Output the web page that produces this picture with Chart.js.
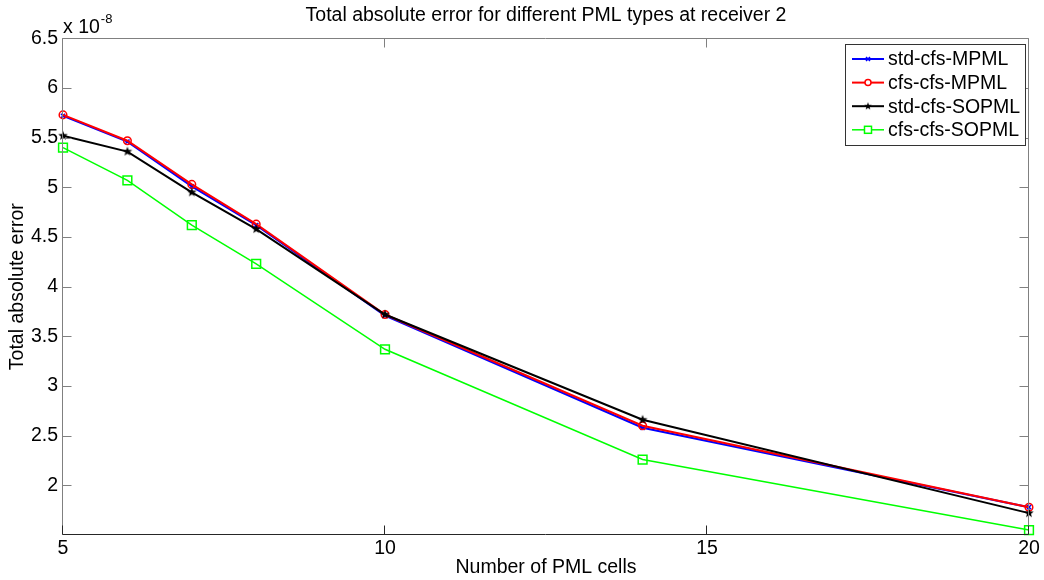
<!DOCTYPE html>
<html>
<head>
<meta charset="utf-8">
<script src="https://cdn.jsdelivr.net/npm/chart.js@4"></script>
<style>
  body { margin: 0; background: #fff; }
  canvas { display: block; }
</style>
</head>
<body>
<canvas id="errChart" width="1044" height="580"></canvas>
<script>
// values are in units of 1e-8
const cells = [5, 6, 7, 8, 10, 14, 20];
const stdMPML = [5.72, 5.46, 5.01, 4.62, 3.71, 2.58, 1.78];
const cfsMPML = [5.73, 5.47, 5.03, 4.63, 3.72, 2.60, 1.78];
const stdSOPML = [5.52, 5.36, 4.95, 4.58, 3.72, 2.66, 1.72];
const cfsSOPML = [5.40, 5.07, 4.62, 4.23, 3.37, 2.26, 1.55];
const seriesNames = ["std-cfs-MPML", "cfs-cfs-MPML", "std-cfs-SOPML", "cfs-cfs-SOPML"];
const xTicks = [5, 10, 15, 20];
const yTicks = [2, 2.5, 3, 3.5, 4, 4.5, 5, 5.5, 6, 6.5];
const exponent = "-8";

const FONT = "'Liberation Sans', Arial, Helvetica, sans-serif";

// filled pentagram like matlab's 'p' marker
function makeStar(r, color) {
    const c = document.createElement("canvas");
    const s = Math.ceil(r * 2 + 2);
    c.width = s; c.height = s;
    const g = c.getContext("2d");
    g.fillStyle = color;
    g.beginPath();
    for (let i = 0; i < 10; i++) {
        const rad = i % 2 === 0 ? r : r * 0.42;
        const a = -Math.PI / 2 + i * Math.PI / 5;
        const px = s / 2 + rad * Math.cos(a);
        const py = s / 2 + rad * Math.sin(a);
        if (i === 0) g.moveTo(px, py); else g.lineTo(px, py);
    }
    g.closePath();
    g.fill();
    return c;
}
const starMarker = makeStar(5, "#000");
const legendStar = makeStar(4, "#000");

function toPoints(vals) {
    return cells.map((c, i) => ({ x: c, y: vals[i] }));
}

const datasets = [
    { label: seriesNames[0], data: toPoints(stdMPML), borderColor: "#0000ff", backgroundColor: "#0000ff",
      borderWidth: 2, pointStyle: "crossRot", pointRadius: 3, pointBorderWidth: 1.5, order: 4 },
    { label: seriesNames[1], data: toPoints(cfsMPML), borderColor: "#ff0000", backgroundColor: "rgba(0,0,0,0)",
      borderWidth: 2, pointStyle: "circle", pointRadius: 3.8, pointBorderWidth: 1.5, order: 3 },
    { label: seriesNames[2], data: toPoints(stdSOPML), borderColor: "#000000", backgroundColor: "#000000",
      borderWidth: 2, pointStyle: starMarker, pointRadius: 5, pointBorderWidth: 1, order: 2 },
    { label: seriesNames[3], data: toPoints(cfsSOPML), borderColor: "#00ff00", backgroundColor: "rgba(0,0,0,0)",
      borderWidth: 1.5, pointStyle: "rect", pointRadius: 6.2, pointBorderWidth: 1.5, order: 1 }
];
datasets.forEach(d => { d.tension = 0; d.clip = false; d.fill = false; });

// axes box, inward ticks, exponent label and legend (matlab look)
const matlabFrame = {
    id: "matlabFrame",
    afterDatasetsDraw(chart) {
        const ctx = chart.ctx;
        const a = chart.chartArea;
        const xs = chart.scales.x, ys = chart.scales.y;
        const L = Math.round(a.left) - 0.5, R = Math.round(a.right) - 0.5;
        const T = Math.round(a.top) + 0.5, B = Math.round(a.bottom) - 0.5;
        const tl = 9;
        ctx.save();
        ctx.lineWidth = 1;
        ctx.strokeStyle = "#808080";
        ctx.beginPath();
        ctx.moveTo(L, B); ctx.lineTo(L, T); ctx.lineTo(R, T); ctx.lineTo(R, B);
        yTicks.forEach(v => {
            const py = Math.round(ys.getPixelForValue(v)) + 0.5;
            ctx.moveTo(L, py); ctx.lineTo(L + tl, py);
            ctx.moveTo(R, py); ctx.lineTo(R - tl, py);
        });
        xTicks.forEach(v => {
            const px = Math.round(xs.getPixelForValue(v)) - 0.5;
            ctx.moveTo(px, T); ctx.lineTo(px, T + tl);
        });
        ctx.stroke();
        ctx.strokeStyle = "#262626";
        ctx.beginPath();
        ctx.moveTo(L, B); ctx.lineTo(R, B);
        xTicks.forEach(v => {
            const px = Math.round(xs.getPixelForValue(v)) - 0.5;
            ctx.moveTo(px, B); ctx.lineTo(px, B - tl);
        });
        ctx.stroke();

        // x 10^-8
        ctx.fillStyle = "#000";
        ctx.textBaseline = "alphabetic";
        ctx.textAlign = "left";
        ctx.font = "19.5px " + FONT;
        const base = "x 10";
        ctx.fillText(base, a.left, 33);
        const w = ctx.measureText(base).width;
        ctx.font = "13px " + FONT;
        ctx.fillText(exponent, a.left + w + 1, 22.5);

        // legend
        const bx = 845.5, by = 44.5, bw = 180, bh = 101;
        ctx.fillStyle = "#fff";
        ctx.fillRect(bx, by, bw, bh);
        ctx.strokeStyle = "#333";
        ctx.lineWidth = 1;
        ctx.strokeRect(bx, by, bw, bh);
        ctx.font = "19.5px " + FONT;
        ctx.textBaseline = "middle";
        chart.data.datasets.forEach((d, i) => {
            const cy = 59 + i * 23.6;
            ctx.strokeStyle = d.borderColor;
            ctx.lineWidth = d.borderWidth;
            ctx.beginPath();
            ctx.moveTo(852, cy); ctx.lineTo(884, cy);
            ctx.stroke();
            ctx.lineWidth = d.pointBorderWidth;
            ctx.beginPath();
            if (d.pointStyle === "circle") {
                ctx.arc(868, cy, 3, 0, Math.PI * 2);
                ctx.fillStyle = "#fff";
                ctx.fill();
                ctx.stroke();
            } else if (d.pointStyle === "rect") {
                ctx.fillStyle = "#fff";
                ctx.fillRect(864.5, cy - 3.5, 7, 7);
                ctx.strokeRect(864.5, cy - 3.5, 7, 7);
            } else if (d.pointStyle === "crossRot") {
                ctx.moveTo(866, cy - 2); ctx.lineTo(870, cy + 2);
                ctx.moveTo(870, cy - 2); ctx.lineTo(866, cy + 2);
                ctx.stroke();
            } else {
                ctx.drawImage(legendStar, 868 - legendStar.width / 2, cy - legendStar.height / 2);
            }
            ctx.fillStyle = "#000";
            ctx.fillText(d.label, 888, cy + 1);
        });
        ctx.restore();
    }
};

const ctx = document.getElementById("errChart").getContext("2d");
new Chart(ctx, {
    type: "line",
    data: { datasets: datasets },
    options: {
        responsive: false,
        animation: false,
        layout: { padding: { left: 0, right: 15, top: 0, bottom: 0 } },
        plugins: {
            legend: { display: false },
            tooltip: { enabled: false },
            title: {
                display: true,
                fullSize: false,
                text: "Total absolute error for different PML types at receiver 2",
                color: "#000",
                font: { family: FONT, size: 19.5, weight: "normal" },
                padding: { top: 4, bottom: 11 }
            }
        },
        scales: {
            x: {
                type: "linear",
                min: 5, max: 20,
                afterFit(scale) { scale.height = 45; },
                afterBuildTicks(scale) { scale.ticks = xTicks.map(v => ({ value: v })); },
                grid: { display: false, drawTicks: false },
                border: { display: false },
                ticks: { color: "#000", padding: 2, font: { family: FONT, size: 19.5 } },
                title: {
                    display: true, text: "Number of PML cells", color: "#000",
                    font: { family: FONT, size: 19.5 }, padding: { top: 0, bottom: 1 }
                }
            },
            y: {
                type: "linear",
                min: 1.5, max: 6.5,
                afterFit(scale) { scale.width = 63; },
                afterBuildTicks(scale) { scale.ticks = yTicks.map(v => ({ value: v })); },
                grid: { display: false, drawTicks: false },
                border: { display: false },
                ticks: {
                    color: "#000", padding: 5, font: { family: FONT, size: 19.5 },
                    callback: v => String(v)
                },
                title: {
                    display: true, text: "Total absolute error", color: "#000",
                    font: { family: FONT, size: 19.5 }, padding: { top: 6, bottom: 0 }
                }
            }
        }
    },
    plugins: [matlabFrame]
});
</script>
</body>
</html>
